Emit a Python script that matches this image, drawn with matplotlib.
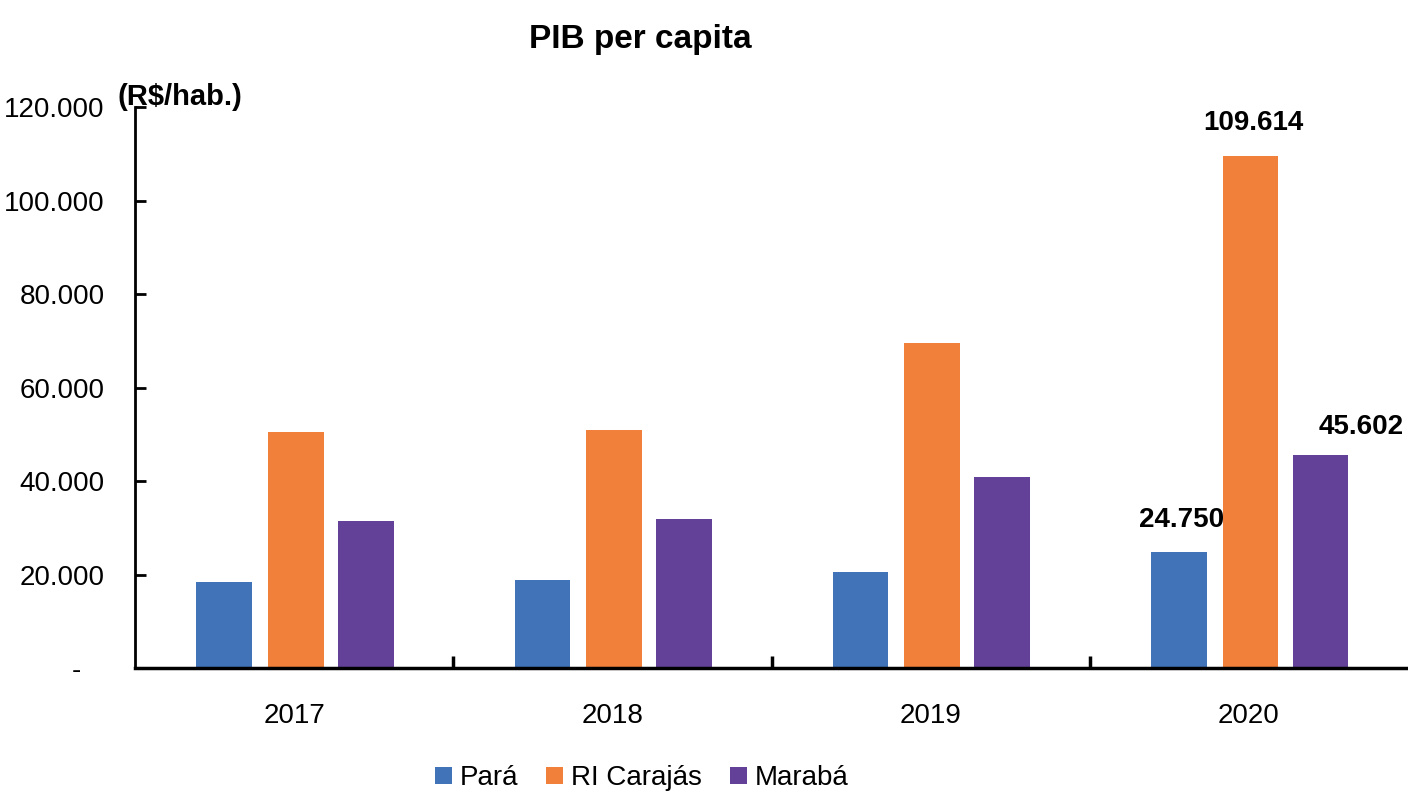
import matplotlib
matplotlib.use("Agg")
import matplotlib.pyplot as plt
from matplotlib.ticker import FuncFormatter, FixedLocator
from matplotlib import font_manager
import numpy as np

years = ["2017", "2018", "2019", "2020"]
series_names = ["Pará", "RI Carajás", "Marabá"]
para = [18400, 18800, 20500, 24750]
ri_carajas = [50500, 50900, 69500, 109614]
maraba = [31450, 31900, 40850, 45602]
colors = ["#4173B9", "#F0803A", "#644198"]
yticks = [0, 20000, 40000, 60000, 80000, 100000, 120000]

names = {f.name for f in font_manager.fontManager.ttflist}
narrow = "Liberation Sans Narrow" if "Liberation Sans Narrow" in names else "Liberation Sans"
plt.rcParams["font.family"] = [narrow, "DejaVu Sans"]

fig = plt.figure(figsize=(14.08, 7.95), dpi=100)
ax = fig.add_axes([0.0959, 0.1597, 0.9041, 0.7057])

x = np.arange(len(years))
offsets = [-0.22, 0.005, 0.225]
width = 0.175
values = [para, ri_carajas, maraba]
bars = []
for vals, off, c, name in zip(values, offsets, colors, series_names):
    b = ax.bar(x + off, vals, width=width, color=c, label=name, zorder=2)
    bars.append(b)

ax.set_xlim(-0.5, 3.5)
ax.set_ylim(0, 120000)

def fmt(v, pos):
    if v == 0:
        return "-   "
    return f"{int(v):,}".replace(",", ".")

ax.yaxis.set_major_locator(FixedLocator(yticks))
ax.yaxis.set_major_formatter(FuncFormatter(fmt))
ax.set_xticks(x)
ax.set_xticklabels(years)
ax.set_xticks(np.arange(0.5, 3.5, 1.0), minor=True)

for s in ["top", "right"]:
    ax.spines[s].set_visible(False)
ax.spines["left"].set_linewidth(2)
ax.spines["bottom"].set_linewidth(2.5)

ax.tick_params(axis="y", direction="in", length=8, width=2, pad=22, labelsize=20)
ax.tick_params(axis="x", which="major", length=0, pad=25, labelsize=20)
ax.tick_params(axis="x", which="minor", direction="in", length=9, width=2.5)

# data labels for 2020
lab_font = dict(fontsize=20, fontweight="bold", ha="center", va="bottom")
i = 3
ax.annotate(f"{para[i]:,}".replace(",", "."), (x[i] + offsets[0], para[i]),
            xytext=(2, 14), textcoords="offset points", **lab_font)
ax.annotate(f"{ri_carajas[i]:,}".replace(",", "."), (x[i] + offsets[1], ri_carajas[i]),
            xytext=(2, 14), textcoords="offset points", **lab_font)
ax.annotate(f"{maraba[i]:,}".replace(",", "."), (x[i] + offsets[2], maraba[i]),
            xytext=(29, 11), textcoords="offset points", **lab_font)

fig.text(0.4545, 0.950, "PIB per capita", fontsize=24, fontweight="bold",
         ha="center", va="center")
fig.text(0.0838, 0.878, "(R$/hab.)", fontsize=21, fontweight="bold",
         ha="left", va="center")

fig.legend(handles=bars, labels=series_names, loc="center",
           bbox_to_anchor=(0.456, 0.021), ncol=3, frameon=False, fontsize=20,
           handlelength=0.6, handleheight=0.6, handletextpad=0.3,
           columnspacing=1.0, borderpad=0)

fig.savefig("out.png", dpi=100)
